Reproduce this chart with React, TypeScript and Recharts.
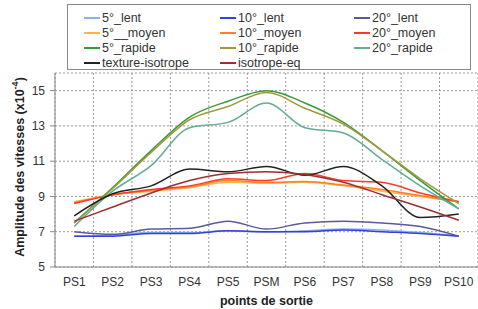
import React from 'react';
import { LineChart, Line, XAxis, YAxis, CartesianGrid } from 'recharts';

const categories = ['PS1', 'PS2', 'PS3', 'PS4', 'PS5', 'PSM', 'PS6', 'PS7', 'PS8', 'PS9', 'PS10'];
const yTicks = [5, 7, 9, 11, 13, 15];

const lent5 = [6.75, 6.8, 6.95, 6.95, 7.05, 6.98, 7.05, 7.15, 7.1, 6.95, 6.75];
const lent10 = [6.75, 6.75, 6.9, 6.9, 7.05, 7.0, 7.0, 7.1, 7.0, 6.9, 6.75];
const lent20 = [7.0, 6.85, 7.15, 7.2, 7.6, 7.15, 7.5, 7.6, 7.5, 7.3, 6.75];
const moyen5 = [8.7, 9.1, 9.3, 9.5, 9.8, 9.75, 9.8, 9.6, 9.3, 9.0, 8.7];
const moyen10 = [8.65, 9.1, 9.35, 9.55, 9.9, 9.8, 9.85, 9.65, 9.4, 9.05, 8.7];
const moyen20 = [8.6, 9.1, 9.4, 9.6, 10.0, 9.9, 10.3, 9.9, 9.8, 9.2, 8.7];
const rapide5 = [7.5, 9.5, 11.6, 13.5, 14.4, 15.0, 14.3, 13.2, 11.6, 9.9, 8.3];
const rapide10 = [7.5, 9.45, 11.5, 13.35, 14.1, 14.9, 14.0, 13.1, 11.6, 10.0, 8.6];
const rapide20 = [7.3, 9.3, 10.75, 12.9, 13.2, 14.3, 12.9, 12.6, 11.1, 9.6, 8.3];
const textureIso = [7.9, 9.15, 9.6, 10.55, 10.4, 10.7, 10.2, 10.7, 9.6, 7.8, 8.0];
const isoEq = [7.6, 8.4, 9.2, 9.9, 10.3, 10.4, 10.25, 9.8, 9.1, 8.4, 7.65];

const series = [
  { key: 's1', name: '5°_lent', data: lent5, color: '#8fb0ee' },
  { key: 's2', name: '10°_lent', data: lent10, color: '#3340dd' },
  { key: 's3', name: '20°_lent', data: lent20, color: '#5a5a9c' },
  { key: 's4', name: '5°__moyen', data: moyen5, color: '#ffb347' },
  { key: 's5', name: '10°_moyen', data: moyen10, color: '#ff7f2a' },
  { key: 's6', name: '20°_moyen', data: moyen20, color: '#ff3a2a' },
  { key: 's7', name: '5°_rapide', data: rapide5, color: '#3a9a3a' },
  { key: 's8', name: '10°_rapide', data: rapide10, color: '#a09a3c' },
  { key: 's9', name: '20°_rapide', data: rapide20, color: '#62ad94' },
  { key: 's10', name: 'texture-isotrope', data: textureIso, color: '#222222' },
  { key: 's11', name: 'isotrope-eq', data: isoEq, color: '#9a3030' },
];

const rows = categories.map((c, i) => {
  const r: any = { idx: i, cat: c };
  series.forEach((s) => { r[s.key] = s.data[i]; });
  return r;
});

const FONT = '"Liberation Sans", Arial, sans-serif';

const YTitle = (props: any) => {
  const vb = props.viewBox || { x: 0, y: 73, width: 55, height: 194 };
  const cx = vb.x + 20;
  const cy = vb.y + vb.height / 2 - 3;
  return (
    <text
      x={cx}
      y={cy}
      transform={`rotate(-90 ${cx} ${cy})`}
      textAnchor="middle"
      dominantBaseline="central"
      fontFamily={FONT}
      fontSize={12.5}
      fontWeight="bold"
      fill="#222"
    >
      Amplitude des vitesses (x10
      <tspan dy={-5} fontSize={9}>-4</tspan>
      <tspan dy={5}>)</tspan>
    </text>
  );
};

const colStarts = [16, 152, 286];

export default function App() {
  return (
    <div style={{ position: 'absolute', left: 0, top: 0, width: 478, height: 309, background: '#fff' }}>
      <LineChart width={478} height={309} data={rows} margin={{ top: 73, right: 0, bottom: 0, left: 0 }}>
        <CartesianGrid
          xAxisId="grid"
          stroke="#999"
          strokeDasharray="2 2"
          vertical={true}
          horizontal={true}
        />
        <XAxis
          xAxisId="grid"
          dataKey="idx"
          type="number"
          domain={[-0.5, 10.5]}
          ticks={[0.5, 1.5, 2.5, 3.5, 4.5, 5.5, 6.5, 7.5, 8.5, 9.5]}
          hide
        />
        <XAxis
          dataKey="idx"
          type="number"
          domain={[-0.5, 10.5]}
          ticks={categories.map((_, i) => i)}
          tickFormatter={(v: number) => categories[v]}
          interval={0}
          height={42}
          tickSize={0}
          tickMargin={10}
          axisLine={{ stroke: '#888' }}
          tick={{ fontFamily: FONT, fontSize: 12, fill: '#333' }}
          label={{ value: 'points de sortie', position: 'insideBottom', offset: 4, fontFamily: FONT, fontSize: 12.5, fontWeight: 'bold', fill: '#222' }}
        />
        <YAxis
          domain={[5, 16]}
          ticks={yTicks}
          width={55}
          tickSize={5}
          tickMargin={5}
          axisLine={{ stroke: '#888' }}
          tickLine={{ stroke: '#888' }}
          tick={{ fontFamily: FONT, fontSize: 12, fill: '#333' }}
          label={<YTitle />}
        />
        {series.map((s) => (
          <Line
            key={s.key}
            dataKey={s.key}
            name={s.name}
            type="monotone"
            stroke={s.color}
            strokeWidth={1.5}
            dot={false}
            isAnimationActive={false}
          />
        ))}
      </LineChart>
      <div
        style={{
          position: 'absolute',
          left: 67,
          top: 4,
          width: 404,
          height: 66,
          boxSizing: 'border-box',
          border: '1px solid #888',
          background: '#fff',
          fontFamily: FONT,
          fontSize: 12.5,
          color: '#333',
        }}
      >
        {series.map((s, i) => {
          const col = i % 3;
          const row = Math.floor(i / 3);
          return (
            <div
              key={s.key}
              style={{
                position: 'absolute',
                left: colStarts[col],
                top: 5 + row * 15,
                height: 15,
                display: 'flex',
                alignItems: 'center',
                whiteSpace: 'nowrap',
              }}
            >
              <span style={{ display: 'inline-block', width: 16, height: 2, background: s.color, marginRight: 2 }} />
              <span>{s.name}</span>
            </div>
          );
        })}
      </div>
    </div>
  );
}
